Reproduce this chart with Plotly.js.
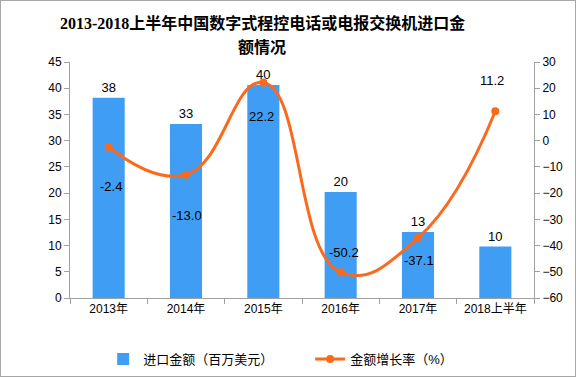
<!DOCTYPE html>
<html>
<head>
<meta charset="utf-8">
<script src="https://cdn.plot.ly/plotly-3.0.1.min.js"></script>
<style>
html,body{margin:0;padding:0;background:#fff;}
#chart{width:574px;height:375px;border:1px solid #a6a6a6;}
</style>
</head>
<body>
<div id="chart"></div>
<script>
var categories = ['2013年','2014年','2015年','2016年','2017年','2018上半年'];
var importValues = [38.2, 33.2, 40.6, 20.2, 12.6, 9.8];
var importLabels = ['38','33','40','20','13','10'];
var growthRates = [-2.4, -13.0, 22.2, -50.2, -37.1, 11.2];
var growthLabels = ['-2.4','-13.0','22.2','-50.2','-37.1','11.2'];
var titleLines = ['2013-2018上半年中国数字式程控电话或电报交换机进口金', '额情况'];

var growthLabelShift = [-40, -41, -34, 20, -23, 31];
var growthLabelXShift = [2, 1, -2, 3, 1, -3];
var titleLineY = [1.165, 1.064];

var fontFam = '"Liberation Sans", "Noto Sans CJK SC", sans-serif';
var axisColor = '#a0a0a0';

var barTrace = {
  type: 'bar',
  x: categories,
  y: importValues,
  text: importLabels,
  textposition: 'outside',
  textfont: {size: 13, color: '#000', family: fontFam},
  cliponaxis: false,
  marker: {color: '#3f9ef4'},
  name: '进口金额（百万美元）',
  hoverinfo: 'x+y'
};
var lineTrace = {
  type: 'scatter',
  mode: 'lines+markers',
  x: categories,
  y: growthRates,
  yaxis: 'y2',
  line: {color: '#fb6a1c', width: 3, shape: 'spline', smoothing: 1.3},
  marker: {color: '#fb6a1c', size: 8},
  name: '金额增长率（%）',
  cliponaxis: false
};

var annotations = categories.map(function(c, i){
  return {
    x: c, y: growthRates[i], xref: 'x', yref: 'y2',
    text: growthLabels[i], showarrow: false,
    yshift: growthLabelShift[i], xshift: growthLabelXShift[i],
    font: {size: 13, color: '#000', family: fontFam}
  };
});
titleLines.forEach(function(t, i){
  annotations.push({
    x: 0.414, y: titleLineY[i], xref: 'paper', yref: 'paper',
    xanchor: 'center', yanchor: 'middle', showarrow: false,
    text: t,
    font: {size: 16, color: '#000', family: '"Liberation Serif", "Noto Sans CJK SC", serif', weight: 600}
  });
});

var layout = {
  width: 574, height: 375,
  margin: {l: 69, r: 41, t: 61, b: 78, autoexpand: false},
  paper_bgcolor: '#fff', plot_bgcolor: '#fff',
  bargap: 0.585,
  showlegend: true,
  legend: {
    orientation: 'h', xref: 'container', yref: 'container',
    x: 0.178, xanchor: 'left', y: 0.045, yanchor: 'middle',
    font: {size: 13, color: '#000', family: fontFam},
    entrywidth: 162
  },
  xaxis: {
    showline: true, linecolor: axisColor, linewidth: 1,
    ticks: 'outside', tickson: 'boundaries', ticklen: 5, tickcolor: axisColor,
    tickfont: {size: 12, color: '#000', family: fontFam},
    showgrid: false, automargin: false
  },
  yaxis: {
    range: [0, 45], dtick: 5,
    showline: true, linecolor: axisColor, linewidth: 1,
    ticks: 'outside', ticklen: 5, tickcolor: axisColor,
    tickfont: {size: 12, color: '#000', family: fontFam},
    showgrid: false, zeroline: false, automargin: false
  },
  yaxis2: {
    overlaying: 'y', side: 'right',
    range: [-60, 30], dtick: 10,
    showline: true, linecolor: axisColor, linewidth: 1,
    ticks: 'outside', ticklen: 5, tickcolor: axisColor,
    tickfont: {size: 12, color: '#000', family: fontFam},
    showgrid: false, zeroline: false, automargin: false
  },
  annotations: annotations
};

Plotly.newPlot('chart', [barTrace, lineTrace], layout, {displayModeBar: false, staticPlot: true});
</script>
</body>
</html>
